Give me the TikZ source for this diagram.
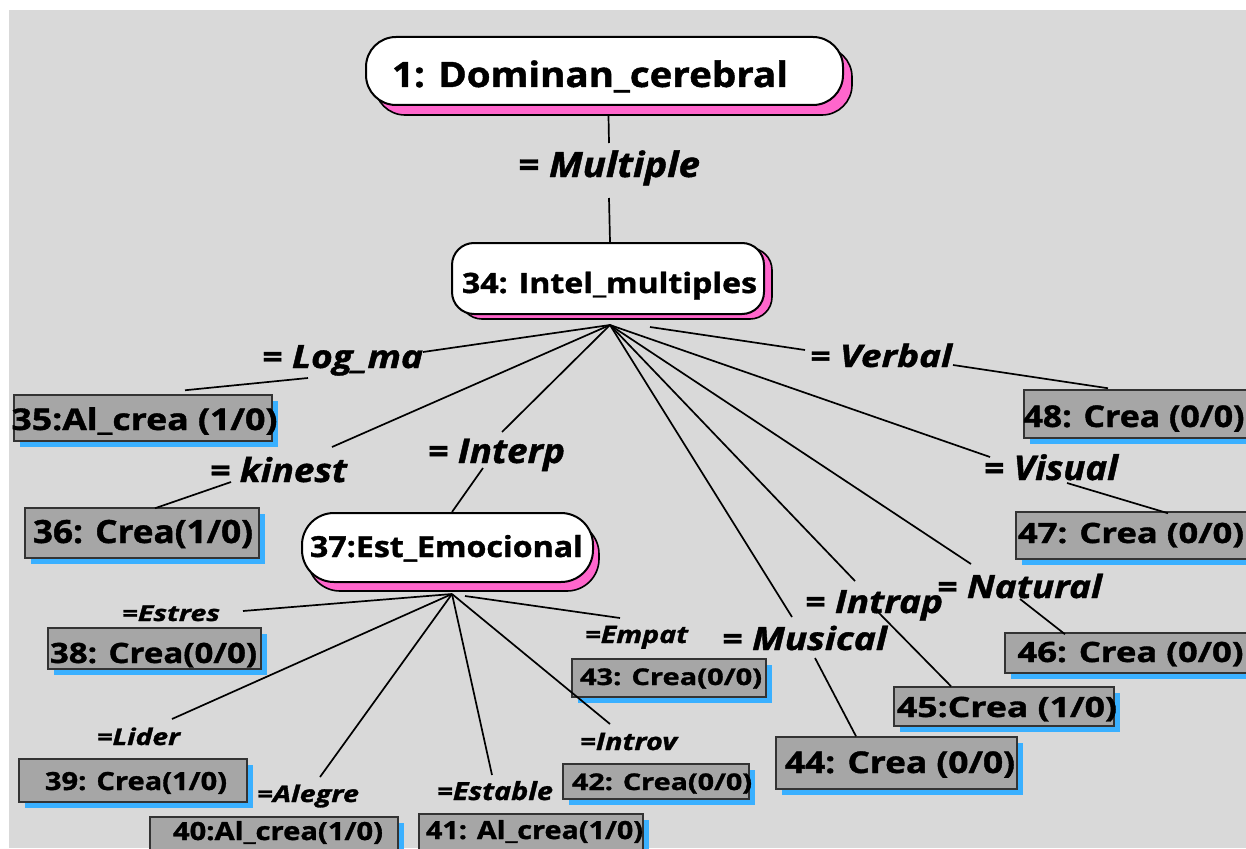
\documentclass[tikz,border=0pt]{standalone}
\usepackage{fontspec}
\usepackage{graphicx}
\setmainfont{Open Sans}[BoldFeatures={FakeBold=1.2}, BoldItalicFeatures={FakeBold=1.2}]
\usetikzlibrary{shadows}

\definecolor{canvasgray}{HTML}{D9D9D9}
\definecolor{boxgray}{HTML}{A6A6A6}
\definecolor{boxedge}{HTML}{333333}
\definecolor{shadowpink}{HTML}{FF66CC}
\definecolor{shadowblue}{HTML}{3AB0FF}

% text squeezed/stretched to a given width, natural height kept
\newcommand{\wfit}[2]{\resizebox{#1pt}{\height}{#2}}
% centred node text: x offset, baseline offset, size, width, text
\newcommand{\ctext}[5]{\makebox[0pt]{\kern#1pt\kern#1pt\raisebox{-#2pt}[0pt][0pt]{\wfit{#4}{\fontsize{#3}{#3}\selectfont\bfseries #5}}}}
% italic edge label: size, width, text
\newcommand{\ltext}[3]{\wfit{#2}{\fontsize{#1}{#1}\selectfont\bfseries\itshape #3}}

\tikzset{
  roundbox/.style={draw=black, line width=2pt, fill=white, inner sep=0pt},
  pinkshadow/.style 2 args={general shadow={fill=shadowpink, draw=black, line width=1.6pt,
      shadow xshift=#1pt, shadow yshift=-#2pt}},
  crea/.style={draw=boxedge, line width=1.5pt, fill=boxgray, inner sep=0pt,
      general shadow={fill=shadowblue, shadow xshift=6pt, shadow yshift=-6pt}},
  lab/.style={inner sep=0pt, anchor=base},
  link/.style={draw=black, line width=1.7pt}
}

\begin{document}
\begin{tikzpicture}[x=1pt,y=-1pt]
\useasboundingbox (0,0) rectangle (1246,848);
\clip (0,0) rectangle (1246,848);
\fill[white] (0,0) rectangle (1246,848);
\fill[canvasgray] (9,10) rectangle (1246,848);

% main concepts
\node[roundbox, rounded corners=30pt, pinkshadow={9}{10}, minimum width=477pt, minimum height=68pt]
  (n1) at (604.5,71) {\ctext{-14.5}{16}{35}{396}{1: Dominan\_cerebral}};
\node[roundbox, rounded corners=22pt, pinkshadow={8}{5}, minimum width=312pt, minimum height=71pt]
  (n34) at (608,278.5) {\ctext{1.5}{14.5}{28}{295}{34: Intel\_multiples}};
\node[roundbox, rounded corners=32pt, pinkshadow={6}{9}, minimum width=291pt, minimum height=69pt]
  (n37) at (447.5,547.5) {\ctext{-1}{9.5}{29}{273}{37:Est\_Emocional}};

% leaf boxes
\node[crea, minimum width=258pt, minimum height=46pt] (n35) at (143,418) {\ctext{1.5}{12}{30}{266}{35:Al\_crea (1/0)}};
\node[crea, minimum width=234pt, minimum height=50pt] (n36) at (142,533) {\ctext{1}{10}{32}{220}{36: Crea(1/0)}};
\node[crea, minimum width=213pt, minimum height=41pt] (n38) at (154.5,648.5) {\ctext{-1}{14.5}{28}{207}{38: Crea(0/0)}};
\node[crea, minimum width=228pt, minimum height=43pt] (n39) at (133,780.5) {\ctext{3}{9.5}{25}{182}{39: Crea(1/0)}};
\node[crea, minimum width=248pt, minimum height=40pt] (n40) at (274,837) {\ctext{4}{3}{25}{210}{40:Al\_crea(1/0)}};
\node[crea, minimum width=224pt, minimum height=40pt] (n41) at (531,834) {\ctext{3.5}{5}{25}{217}{41: Al\_crea(1/0)}};
\node[crea, minimum width=186pt, minimum height=35pt] (n42) at (656,781.5) {\ctext{6}{8.5}{23}{180}{42: Crea(0/0)}};
\node[crea, minimum width=194pt, minimum height=38pt] (n43) at (669,678) {\ctext{2}{7}{23}{182}{43: Crea(0/0)}};
\node[crea, minimum width=241pt, minimum height=52pt] (n44) at (896.5,763) {\ctext{3.5}{10}{30}{230}{44: Crea (0/0)}};
\node[crea, minimum width=220pt, minimum height=39pt] (n45) at (1004,706.5) {\ctext{3}{10.5}{28}{220}{45:Crea (1/0)}};
\node[crea, minimum width=247pt, minimum height=40pt] (n46) at (1128.5,653) {\ctext{2}{9}{28}{226}{46: Crea (0/0)}};
\node[crea, minimum width=236pt, minimum height=47pt] (n47) at (1134,535.5) {\ctext{-3}{7.5}{28}{226}{47: Crea (0/0)}};
\node[crea, minimum width=228pt, minimum height=48pt] (n48) at (1138,414) {\ctext{-4}{13}{30}{221}{48: Crea (0/0)}};

% edge labels
\node[lab] (lMult) at (609,177) {\ltext{35}{182}{= Multiple}};
\node[lab] (lLog)  at (342.5,368) {\ltext{32}{161}{= Log\_ma}};
\node[lab] (lKin)  at (278.5,482) {\ltext{33}{137}{= kinest}};
\node[lab] (lInt)  at (496.5,463) {\ltext{34}{137}{= Interp}};
\node[lab] (lVer)  at (881,367)   {\ltext{31}{142}{= Verbal}};
\node[lab] (lVis)  at (1051,480)  {\ltext{34}{134}{= Visual}};
\node[lab] (lNat)  at (1019.5,598) {\ltext{32}{165}{= Natural}};
\node[lab] (lIntr) at (874,613)   {\ltext{32}{138}{= Intrap}};
\node[lab] (lMus)  at (804.5,650) {\ltext{32}{165}{= Musical}};
\node[lab] (lEst)  at (171,621)   {\ltext{22}{98}{=Estres}};
\node[lab] (lLid)  at (138.5,745) {\ltext{23}{83}{=Lider}};
\node[lab] (lAle)  at (308,802)   {\ltext{23}{102}{=Alegre}};
\node[lab] (lEsb)  at (495,800)   {\ltext{25}{116}{=Estable}};
\node[lab] (lIntv) at (628.5,750) {\ltext{24}{97}{=Introv}};
\node[lab] (lEmp)  at (636.5,643) {\ltext{24}{103}{=Empat}};

% fan-out points under the two branching concepts
\coordinate (hub34) at ([shift={(2,10)}]n34.south);
\coordinate (hub37) at ([shift={(4.5,11)}]n37.south);

% top chain
\draw[link] ([shift={(4,10)}]n1.south) -- ([shift={(0,-34)}]lMult.base);
\draw[link] ([shift={(0,21)}]lMult.base) -- ([shift={(2,0)}]n34.north);

% branches of 34
\draw[link] (hub34) -- ([shift={(80.5,-16)}]lLog.base);
\draw[link] ([shift={(-34.5,10)}]lLog.base) -- ([shift={(42,-4)}]n35.north);
\draw[link] (hub34) -- ([shift={(53.5,-35)}]lKin.base);
\draw[link] ([shift={(-47.5,0)}]lKin.base) -- ([shift={(13,1)}]n36.north);
\draw[link] (hub34) -- ([shift={(5.5,-31)}]lInt.base);
\draw[link] ([shift={(-13.5,5)}]lInt.base) -- ([shift={(4.5,0)}]n37.north);
\draw[link] ([shift={(42,12)}]n34.south) -- ([shift={(-76,-17)}]lVer.base);
\draw[link] ([shift={(72,-2)}]lVer.base) -- ([shift={(-30,-1)}]n48.north);
\draw[link] (hub34) -- ([shift={(-61,-23)}]lVis.base);
\draw[link] ([shift={(16,3)}]lVis.base) -- ([shift={(34,2)}]n47.north);
\draw[link] (hub34) -- ([shift={(-48.5,-34)}]lNat.base);
\draw[link] ([shift={(0.5,1)}]lNat.base) -- ([shift={(-63.5,2)}]n46.north);
\draw[link] (hub34) -- ([shift={(-19,-32)}]lIntr.base);
\draw[link] ([shift={(4,-1)}]lIntr.base) -- ([shift={(-53,0)}]n45.north);
\draw[link] (hub34) -- ([shift={(-12.5,-33)}]lMus.base);
\draw[link] ([shift={(10.5,8)}]lMus.base) -- ([shift={(-40.5,0)}]n44.north);

% branches of 37
\draw[link] (hub37) -- ([shift={(72,-10)}]lEst.base);
\draw[link] (hub37) -- ([shift={(33.5,-26)}]lLid.base);
\draw[link] (hub37) -- ([shift={(12,-25)}]lAle.base);
\draw[link] (hub37) -- ([shift={(-3,-25)}]lEsb.base);
\draw[link] (hub37) -- ([shift={(-18.5,-26)}]lIntv.base);
\draw[link] ([shift={(17.5,13)}]n37.south) -- ([shift={(-16.5,-25)}]lEmp.base);
\end{tikzpicture}
\end{document}
